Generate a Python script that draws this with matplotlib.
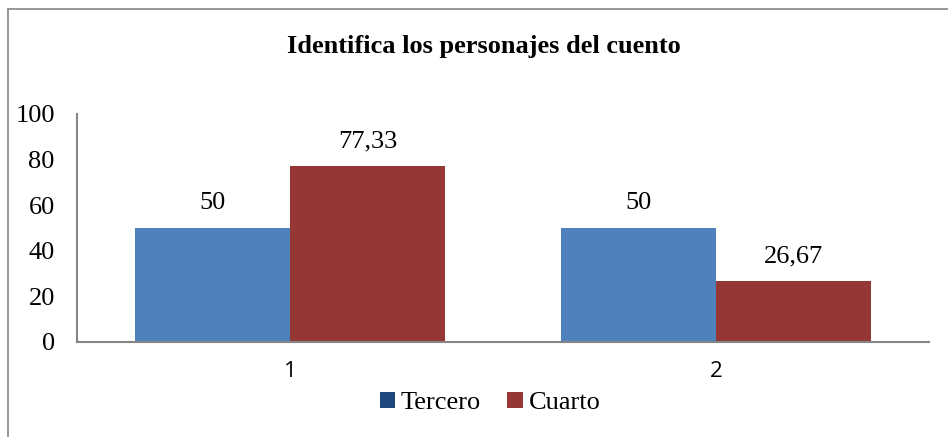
import matplotlib.pyplot as plt
import numpy as np
from matplotlib.patches import Patch
from matplotlib.lines import Line2D

# データ
categories = ["1", "2"]
series_names = ["Tercero", "Cuarto"]
tercero = [50, 50]
cuarto = [77.33, 26.67]
value_labels = [["50", "50"], ["77,33", "26,67"]]
y_ticks = [0, 20, 40, 60, 80, 100]

blue = "#4F81BD"
red = "#953735"

fig = plt.figure(figsize=(9.48, 4.37), dpi=100)
ax = fig.add_axes([77 / 948, 1 - 342 / 437, (929 - 77) / 948, (342 - 114) / 437])

x = np.arange(len(categories))
w = 0.364
b1 = ax.bar(x - w / 2, tercero, w, color=blue)
b2 = ax.bar(x + w / 2, cuarto, w, color=red)

serif = "Liberation Serif"
for bars, labels in zip([b1, b2], value_labels):
    for rect, lab in zip(bars, labels):
        ax.text(rect.get_x() + rect.get_width() / 2, rect.get_height() + 6, lab,
                ha="center", va="bottom", fontsize=19, family=serif)

ax.set_xlim(-0.5, 1.5)
ax.set_ylim(0, 100)
ax.set_yticks(y_ticks)
ax.set_yticklabels([str(t) for t in y_ticks], family=serif, fontsize=19)
ax.set_xticks(x)
ax.set_xticklabels(categories, family="Open Sans", fontsize=16)
ax.tick_params(axis="both", length=0)
ax.tick_params(axis="y", pad=16)
ax.tick_params(axis="x", pad=14)
for s in ["top", "right"]:
    ax.spines[s].set_visible(False)
for s in ["left", "bottom"]:
    ax.spines[s].set_color("#868686")
    ax.spines[s].set_linewidth(1.5)

fig.text(484 / 948, 1 - 46 / 437, "Identifica los personajes del cuento",
         ha="center", va="center", fontsize=19, fontweight="bold", family=serif)

handles = [Patch(facecolor="#1F497D"), Patch(facecolor=red)]
fig.legend(handles, series_names, loc="center", bbox_to_anchor=(490 / 948, 1 - 403 / 437),
           ncol=2, frameon=False, prop={"family": serif, "size": 19},
           handlelength=0.6, handleheight=0.6, handletextpad=0.2, columnspacing=1.0)

# 外枠（左と上のみ）
fig.add_artist(Line2D([8 / 948, 8 / 948], [0, 1 - 9 / 437], transform=fig.transFigure,
                      color="#868686", lw=1.2))
fig.add_artist(Line2D([8 / 948, 1], [1 - 9 / 437, 1 - 9 / 437], transform=fig.transFigure,
                      color="#868686", lw=1.2))

fig.savefig("out.png", dpi=100)
